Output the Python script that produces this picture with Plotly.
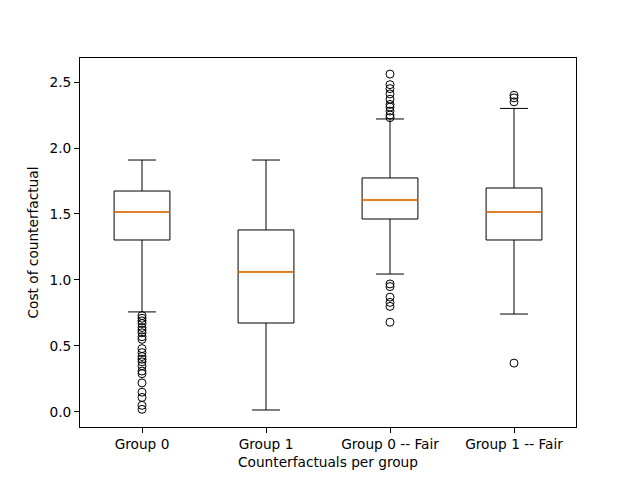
import plotly.graph_objects as go

groups = ["Group 0", "Group 1", "Group 0 -- Fair", "Group 1 -- Fair"]
q1 = [1.303, 0.674, 1.462, 1.303]
median = [1.515, 1.061, 1.606, 1.515]
q3 = [1.674, 1.379, 1.773, 1.697]
lower = [0.758, 0.015, 1.045, 0.742]
upper = [1.909, 1.909, 2.22, 2.30]

outliers_g0 = [0.73, 0.71, 0.69, 0.67, 0.64, 0.62, 0.60, 0.57, 0.55, 0.48, 0.45,
               0.42, 0.40, 0.38, 0.35, 0.31, 0.29, 0.22, 0.15, 0.11, 0.05, 0.02]
outliers_g1 = []
outliers_g0_fair = [2.56, 2.48, 2.45, 2.41, 2.37, 2.33, 2.31, 2.28, 2.25, 2.23,
                    0.97, 0.95, 0.87, 0.83, 0.80, 0.68]
outliers_g1_fair = [2.40, 2.38, 2.35, 0.37]
outliers = [outliers_g0, outliers_g1, outliers_g0_fair, outliers_g1_fair]

pos = [1, 2, 3, 4]
box_w = 0.45

fig = go.Figure()
fig.add_trace(go.Box(x=pos, q1=q1, median=median, q3=q3, lowerfence=lower, upperfence=upper,
                     width=box_w, whiskerwidth=0.5, boxpoints=False,
                     line=dict(color="black", width=1), fillcolor="rgba(0,0,0,0)",
                     showlegend=False))

# orange median lines drawn over the box medians
mx, my = [], []
for p, m in zip(pos, median):
    mx += [p - box_w / 2, p + box_w / 2, None]
    my += [m, m, None]
fig.add_trace(go.Scatter(x=mx, y=my, mode="lines", line=dict(color="#ff7f0e", width=1.5),
                         showlegend=False))

# fliers
ox, oy = [], []
for p, vals in zip(pos, outliers):
    ox += [p] * len(vals)
    oy += vals
fig.add_trace(go.Scatter(x=ox, y=oy, mode="markers",
                         marker=dict(symbol="circle-open", size=8, color="black", line=dict(width=1)),
                         showlegend=False))

axis_common = dict(showline=True, linecolor="black", linewidth=1, mirror=True, showgrid=False,
                   zeroline=False, ticks="outside", ticklen=5, tickcolor="black",
                   tickfont=dict(size=13.7, color="black"))
fig.update_layout(
    width=640, height=480,
    paper_bgcolor="white", plot_bgcolor="white",
    font=dict(family="DejaVu Sans", size=13.7, color="black"),
    margin=dict(l=72, r=72, t=50, b=61),
    xaxis=dict(range=[0.5, 4.5], tickvals=pos, ticktext=groups,
               title=dict(text="Counterfactuals per group", font=dict(size=13.7), standoff=5),
               **axis_common),
    yaxis=dict(range=[-0.114, 2.682], tickvals=[0, 0.5, 1, 1.5, 2, 2.5], tickformat=".1f",
               title=dict(text="Cost of counterfactual", font=dict(size=13.7), standoff=7),
               **axis_common),
)

fig.write_html("out.html")
